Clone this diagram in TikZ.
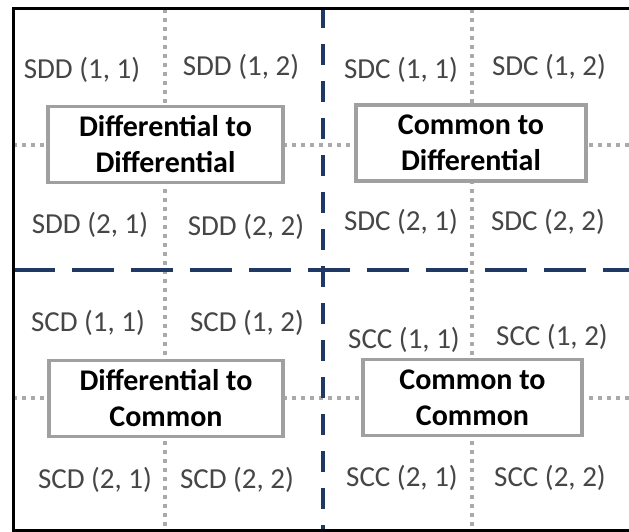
\documentclass[tikz,border=0pt]{standalone}
\usepackage{fontspec}
\setmainfont{Carlito}
\definecolor{navy}{RGB}{31,56,100}
\definecolor{gridgray}{RGB}{170,170,170}
\definecolor{boxgray}{RGB}{160,160,160}
\definecolor{labgray}{RGB}{70,70,70}
\begin{document}
\begin{tikzpicture}[x=1pt,y=-1pt,
  lab/.style={inner sep=0pt, text=labgray, font=\fontsize{29}{33}\selectfont},
  quad/.style={draw=boxgray, line width=3.5pt, fill=white, minimum width=#1, minimum height=76pt, inner sep=0pt, align=center, font=\fontsize{30}{36}\selectfont\bfseries, text=black},
  dotline/.style={draw=gridgray, line width=3.5pt, dash pattern=on 4pt off 5pt},
  dashv/.style={draw=navy, line width=4.5pt, dash pattern=on 21pt off 16pt},
  dashh/.style={draw=navy, line width=4pt, dash pattern=on 42pt off 17pt}]
\useasboundingbox (0,0) rectangle (629,532);
\fill[white] (0,0) rectangle (629,532);
% grid coordinates
\coordinate (tl) at (13,9);
\coordinate (br) at (645,530);
% dotted grid lines
\draw[dotline] (165,9) -- (165,532);
\draw[dotline] (472,9) -- (472,532);
\draw[dotline] (13,145) -- (629,145);
\draw[dotline] (13,398) -- (629,398);
% dashed navy split lines
\draw[dashh] (13,270) -- (629,270);
\draw[dashv] (323,7) -- (323,532);
% frame
\draw[black, line width=3pt] (645,9) -- (tl) |- (br);
% boxes
\node[quad=235pt] (dd) at (165.5,144.5) {Differential to\\Differential};
\node[quad=230pt] (dc) at (471,143) {Common to\\Differential};
\node[quad=234pt] (cd) at (166,398.5) {Differential to\\Common};
\node[quad=219pt] (cc) at (472.5,397.5) {Common to\\Common};
% labels
\node[lab] (sdd11) at (82,70) {SDD (1, 1)};
\node[lab] (sdd12) at (241,67) {SDD (1, 2)};
\node[lab] (sdd21) at (90,225) {SDD (2, 1)};
\node[lab] (sdd22) at (246,227) {SDD (2, 2)};
\node[lab] (sdc11) at (401,70) {SDC (1, 1)};
\node[lab] (sdc12) at (549,67) {SDC (1, 2)};
\node[lab] (sdc21) at (401,222) {SDC (2, 1)};
\node[lab] (sdc22) at (548,222) {SDC (2, 2)};
\node[lab] (scd11) at (88,323) {SCD (1, 1)};
\node[lab] (scd12) at (247,323) {SCD (1, 2)};
\node[lab] (scd21) at (95,480) {SCD (2, 1)};
\node[lab] (scd22) at (237,480) {SCD (2, 2)};
\node[lab] (scc11) at (404,340) {SCC (1, 1)};
\node[lab] (scc12) at (552,337) {SCC (1, 2)};
\node[lab] (scc21) at (402,478) {SCC (2, 1)};
\node[lab] (scc22) at (550,478) {SCC (2, 2)};
\end{tikzpicture}
\end{document}
